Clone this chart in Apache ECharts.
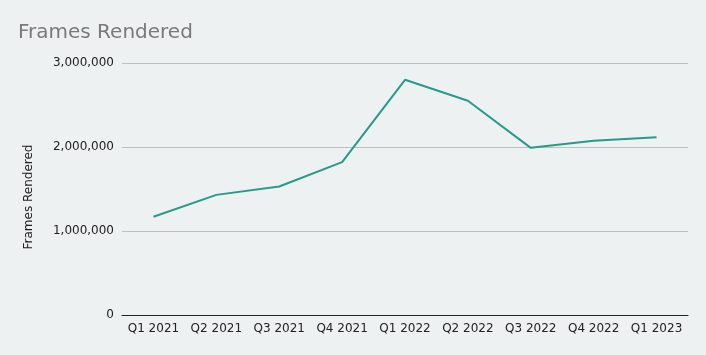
<!DOCTYPE html>
<html><head><meta charset="utf-8">
<script src="https://cdn.jsdelivr.net/npm/echarts@6/dist/echarts.min.js"></script>
<style>html,body{margin:0;padding:0;background:#edf1f2}#c{width:706px;height:355px}</style>
</head><body><div id="c"></div>
<script>
const categories = ["Q1 2021","Q2 2021","Q3 2021","Q4 2021","Q1 2022","Q2 2022","Q3 2022","Q4 2022","Q1 2023"];
const framesRendered = [1170000, 1430000, 1530000, 1820000, 2800000, 2550000, 1990000, 2075000, 2115000];
const yTicks = [0, 1000000, 2000000, 3000000];

const chart = echarts.init(document.getElementById('c'));
chart.setOption({
  backgroundColor: '#edf1f2',
  textStyle: { fontFamily: 'DejaVu Sans' },
  title: { text: 'Frames Rendered', left: 13, top: 18, textStyle: { fontFamily: 'DejaVu Sans', fontSize: 20, fontWeight: 'normal', color: '#7a7a7a' } },
  grid: { left: 122, right: 18, top: 63, bottom: 40 },
  xAxis: {
    type: 'category', data: categories, boundaryGap: true,
    axisLine: { lineStyle: { color: '#222', width: 1 } },
    axisTick: { show: false },
    axisLabel: { color: '#222', fontSize: 12, margin: 8, interval: 0, hideOverlap: false }
  },
  yAxis: {
    type: 'value', min: yTicks[0], max: yTicks[yTicks.length-1], interval: 1000000,
    name: 'Frames Rendered', nameLocation: 'middle', nameGap: 87, nameRotate: 90,
    nameTextStyle: { color: '#222', fontSize: 12, padding: [0, 16, 0, 0] },
    axisLine: { show: false }, axisTick: { show: false },
    axisLabel: { color: '#222', fontSize: 12, margin: 8, formatter: v => v.toLocaleString('en-US') },
    splitLine: { lineStyle: { color: '#bcc0c2', width: 1 } }
  },
  series: [{ type: 'line', data: framesRendered, symbol: 'none', lineStyle: { color: '#279a8b', width: 2 }, itemStyle: { color: '#279a8b' } }]
});
</script></body></html>
